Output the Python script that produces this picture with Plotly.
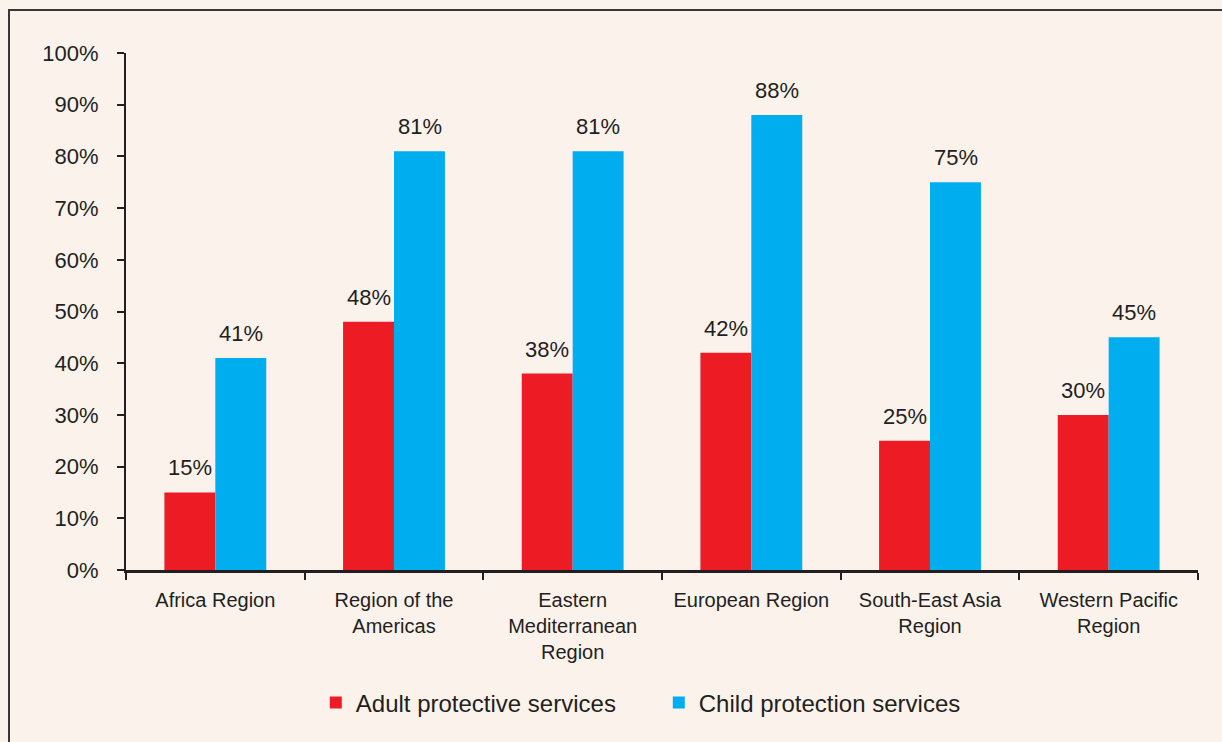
import plotly.graph_objects as go

categories = ["Africa Region", "Region of the Americas", "Eastern Mediterranean Region",
              "European Region", "South-East Asia Region", "Western Pacific Region"]
tick_labels = ["Africa Region", "Region of the<br>Americas", "Eastern<br>Mediterranean<br>Region",
               "European Region", "South-East Asia<br>Region", "Western Pacific<br>Region"]
adult = [15, 48, 38, 42, 25, 30]
child = [41, 81, 81, 88, 75, 45]
series_names = ["Adult protective services", "Child protection services"]
colors = ["#ED1C24", "#00AEEF"]

TEXT = "#231F20"
BG = "#FBF2EC"
FONT = "Liberation Sans, Arial, sans-serif"

fig = go.Figure()
for name, vals, col in zip(series_names, [adult, child], colors):
    fig.add_trace(go.Bar(
        x=categories, y=[v / 100 for v in vals], name=name,
        marker=dict(color=col, line=dict(width=0)),
    ))

# data labels
for vals, shift in zip([adult, child], [-25.5, 25.5]):
    for c, v in zip(categories, vals):
        fig.add_annotation(x=c, y=v / 100, text=f"{v}%", showarrow=False,
                           xref="x", yref="y", xshift=shift, yshift=10,
                           yanchor="bottom", font=dict(family=FONT, size=22, color=TEXT))

# outer frame
fig.add_shape(type="rect", xref="paper", yref="paper",
              x0=(9 - 126) / 1072, x1=(1240 - 126) / 1072,
              y0=(570 - 760) / 517, y1=(570 - 10) / 517,
              line=dict(color="#3C3535", width=2), fillcolor="rgba(0,0,0,0)", layer="below")

fig.update_layout(
    width=1222, height=742,
    paper_bgcolor=BG, plot_bgcolor=BG,
    margin=dict(l=126, r=24, t=53, b=172, autoexpand=False),
    barmode="group", bargap=0.43, bargroupgap=0,
    showlegend=True,
    legend=dict(orientation="h", x=0.497, xanchor="center", y=(570 - 703) / 517, yanchor="middle",
                font=dict(family=FONT, size=24, color=TEXT),
                bgcolor="rgba(0,0,0,0)", traceorder="normal",
                entrywidthmode="pixels", entrywidth=298),
    font=dict(family=FONT, color=TEXT),
)
fig.update_xaxes(
    tickmode="array", tickvals=categories, ticktext=tick_labels, tickangle=0,
    tickson="boundaries", ticks="outside", ticklen=7, tickwidth=2, tickcolor=TEXT,
    showline=True, linecolor=TEXT, linewidth=3, showgrid=False,
    tickfont=dict(family=FONT, size=20, color=TEXT), ticklabelstandoff=10,
)
fig.update_yaxes(
    range=[0, 1], tickvals=[i / 10 for i in range(11)], tickformat=".0%",
    ticks="outside", ticklen=7, tickwidth=2, tickcolor=TEXT,
    showline=True, linecolor=TEXT, linewidth=2, showgrid=False, zeroline=False,
    tickfont=dict(family=FONT, size=22, color=TEXT), ticklabelstandoff=14,
)

fig.write_html("out.html", config={"displayModeBar": False},
               post_script="document.body.style.margin='0';document.body.style.background='#FBF2EC';")
